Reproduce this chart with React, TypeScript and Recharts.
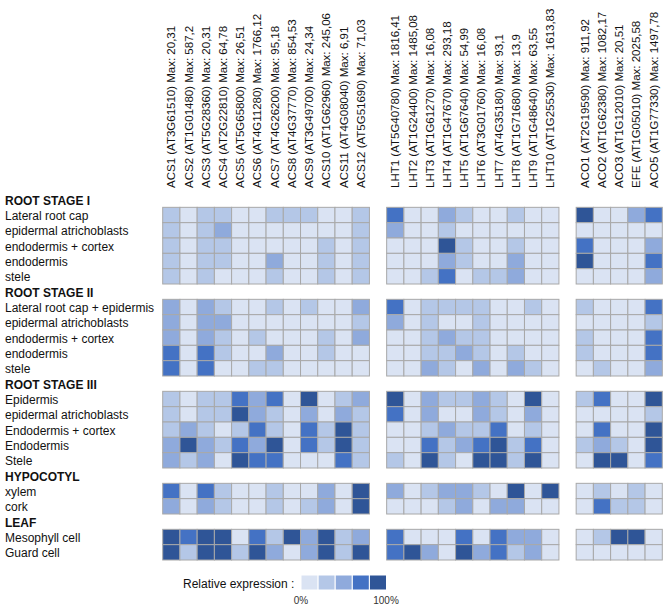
import { ScatterChart, Scatter, XAxis, YAxis } from "recharts";

// gene columns, one array per family
const acsGenes = [
  "ACS1 (AT3G61510) Max: 20,31",
  "ACS2 (AT1G01480) Max: 587,2",
  "ACS3 (AT5G28360) Max: 20,31",
  "ACS4 (AT2G22810) Max: 64,78",
  "ACS5 (AT5G65800) Max: 26,51",
  "ACS6 (AT4G11280) Max: 1766,12",
  "ACS7 (AT4G26200) Max: 95,18",
  "ACS8 (AT4G37770) Max: 854,53",
  "ACS9 (AT3G49700) Max: 24,34",
  "ACS10 (AT1G62960) Max: 245,06",
  "ACS11 (AT4G08040) Max: 6,91",
  "ACS12 (AT5G51690) Max: 71,03",
];
const lhtGenes = [
  "LHT1 (AT5G40780) Max: 1816,41",
  "LHT2 (AT1G24400) Max: 1485,08",
  "LHT3 (AT1G61270) Max: 16,08",
  "LHT4 (AT1G47670) Max: 293,18",
  "LHT5 (AT1G67640) Max: 54,99",
  "LHT6 (AT3G01760) Max: 16,08",
  "LHT7 (AT4G35180) Max: 93,1",
  "LHT8 (AT1G71680) Max: 13,9",
  "LHT9 (AT1G48640) Max: 63,55",
  "LHT10 (AT1G25530) Max: 1613,83",
];
const acoGenes = [
  "ACO1 (AT2G19590) Max: 911,92",
  "ACO2 (AT1G62380) Max: 1082,17",
  "ACO3 (AT1G12010) Max: 20,51",
  "EFE (AT1G05010) Max: 2025,58",
  "ACO5 (AT1G77330) Max: 1497,78",
];

const stageNames = ["ROOT STAGE I", "ROOT STAGE II", "ROOT STAGE III", "HYPOCOTYL", "LEAF"];
const stageTissues = [
  ["Lateral root cap", "epidermal atrichoblasts", "endodermis + cortex", "endodermis", "stele"],
  ["Lateral root cap + epidermis", "epidermal atrichoblasts", "endodermis + cortex", "endodermis", "stele"],
  ["Epidermis", "epidermal atrichoblasts", "Endodermis + cortex", "Endodermis", "Stele"],
  ["xylem", "cork"],
  ["Mesophyll cell", "Guard cell"],
];

// relative expression class, 0 (0%) .. 4 (100%), rows follow stageTissues
const acsLevels = [
  [1, 0, 1, 1, 0, 0, 1, 1, 1, 0, 0, 1],
  [1, 0, 1, 2, 0, 0, 0, 0, 0, 0, 0, 1],
  [1, 0, 1, 1, 0, 0, 0, 0, 0, 1, 0, 1],
  [1, 0, 1, 1, 0, 0, 2, 0, 0, 1, 0, 1],
  [1, 0, 1, 0, 0, 0, 1, 0, 0, 1, 0, 1],
  [2, 0, 2, 1, 0, 0, 1, 0, 1, 0, 0, 2],
  [2, 0, 2, 2, 0, 0, 0, 0, 0, 0, 0, 1],
  [2, 0, 2, 1, 0, 1, 0, 0, 0, 1, 0, 2],
  [3, 0, 3, 1, 0, 0, 2, 0, 0, 1, 0, 0],
  [3, 0, 3, 0, 0, 1, 1, 0, 0, 0, 0, 0],
  [1, 0, 1, 1, 3, 2, 3, 0, 4, 0, 1, 2],
  [1, 0, 1, 1, 4, 2, 1, 0, 2, 0, 2, 1],
  [1, 2, 1, 0, 1, 3, 1, 0, 3, 1, 4, 1],
  [2, 4, 2, 1, 3, 2, 4, 0, 3, 1, 4, 1],
  [2, 1, 2, 0, 4, 3, 3, 0, 0, 0, 3, 1],
  [3, 0, 3, 1, 0, 0, 1, 0, 0, 2, 0, 4],
  [2, 0, 2, 1, 0, 0, 1, 0, 1, 2, 0, 4],
  [4, 3, 4, 4, 0, 3, 1, 4, 2, 4, 1, 2],
  [4, 1, 4, 4, 1, 4, 2, 0, 2, 4, 1, 4],
];
const lhtLevels = [
  [3, 0, 0, 2, 1, 0, 0, 1, 0, 0],
  [2, 0, 0, 1, 0, 0, 0, 0, 0, 0],
  [0, 0, 0, 4, 1, 0, 0, 1, 0, 0],
  [0, 0, 0, 2, 1, 0, 0, 2, 0, 0],
  [0, 0, 1, 3, 0, 1, 1, 2, 0, 0],
  [3, 0, 1, 1, 1, 1, 0, 0, 1, 0],
  [2, 0, 1, 0, 0, 1, 0, 0, 0, 0],
  [0, 0, 1, 2, 1, 1, 0, 0, 0, 0],
  [0, 0, 1, 1, 2, 1, 0, 1, 0, 0],
  [0, 0, 2, 1, 0, 2, 0, 2, 1, 0],
  [4, 0, 2, 1, 1, 2, 1, 0, 4, 0],
  [3, 0, 2, 0, 0, 2, 1, 0, 2, 0],
  [0, 0, 1, 2, 1, 1, 3, 0, 1, 0],
  [0, 0, 3, 1, 2, 3, 4, 1, 3, 0],
  [1, 0, 4, 1, 0, 4, 4, 1, 4, 0],
  [2, 0, 1, 2, 2, 1, 0, 4, 0, 4],
  [0, 0, 0, 1, 2, 0, 2, 2, 0, 0],
  [3, 0, 0, 0, 3, 0, 3, 2, 2, 0],
  [3, 4, 2, 0, 4, 2, 3, 1, 2, 0],
];
const acoLevels = [
  [4, 0, 0, 2, 3],
  [0, 0, 0, 0, 0],
  [3, 0, 0, 0, 2],
  [4, 0, 0, 0, 3],
  [0, 0, 0, 0, 2],
  [1, 0, 0, 0, 3],
  [0, 0, 0, 0, 1],
  [1, 0, 0, 0, 3],
  [1, 0, 0, 0, 3],
  [0, 1, 0, 0, 2],
  [1, 3, 0, 0, 4],
  [0, 0, 0, 0, 1],
  [0, 3, 0, 0, 4],
  [1, 2, 1, 0, 4],
  [0, 4, 4, 0, 3],
  [0, 1, 0, 1, 0],
  [0, 3, 1, 1, 0],
  [0, 1, 4, 4, 0],
  [0, 0, 0, 0, 0],
];

const palette = ["#dae3f3", "#b4c7e7", "#8faadc", "#4472c4", "#2f5597"];

const W = 666;
const H = 609;
const LEFT = 162.7;
const RIGHT = 3.7;
const TOP = 192;
const BOTTOM = 49;
const COL_SLOTS = acsGenes.length + 1 + lhtGenes.length + 1 + acoGenes.length;
const ROW_SLOTS = stageTissues.reduce((s, t) => s + t.length + 1, 0);
const CW = (W - LEFT - RIGHT) / COL_SLOTS;
const CH = (H - TOP - BOTTOM) / ROW_SLOTS;
const FONT = "Arial, 'Liberation Sans', sans-serif";

// column slot for each gene family (one empty slot between families)
const groups = [
  { genes: acsGenes, levels: acsLevels, start: 0 },
  { genes: lhtGenes, levels: lhtLevels, start: acsGenes.length + 1 },
  { genes: acoGenes, levels: acoLevels, start: acsGenes.length + lhtGenes.length + 2 },
];

const colLabels = new Map<number, string>();
groups.forEach((g) => g.genes.forEach((name, i) => colLabels.set(g.start + i + 0.5, name)));

const rowLabels = new Map<number, { text: string; bold: boolean }>();
const tissueSlots: number[] = [];
let slot = 0;
stageNames.forEach((stage, s) => {
  rowLabels.set(slot + 0.5, { text: stage, bold: true });
  slot++;
  stageTissues[s].forEach((t) => {
    rowLabels.set(slot + 0.5, { text: t, bold: false });
    tissueSlots.push(slot);
    slot++;
  });
});

const cells: { x: number; y: number; level: number }[] = [];
groups.forEach((g) =>
  g.levels.forEach((row, r) =>
    row.forEach((level, c) => {
      cells.push({ x: g.start + c + 0.5, y: tissueSlots[r] + 0.5, level });
    })
  )
);

const ColTick = (props: any) => {
  const { x, payload } = props;
  return (
    <text
      transform={`translate(${x},${TOP - 4}) rotate(-90)`}
      textAnchor="start"
      dominantBaseline="central"
      fontSize={11.5}
      fontFamily={FONT}
      fill="#111"
    >
      {colLabels.get(payload.value)}
    </text>
  );
};

const RowTick = (props: any) => {
  const { y, payload } = props;
  const lab = rowLabels.get(payload.value);
  if (!lab) return null;
  return (
    <text
      x={5}
      y={y + 1}
      textAnchor="start"
      dominantBaseline="central"
      fontSize={12}
      fontWeight={lab.bold ? "bold" : "normal"}
      fontFamily={FONT}
      fill="#111"
    >
      {lab.text}
    </text>
  );
};

const Cell = (props: any) => {
  const { cx, cy, payload } = props;
  return (
    <rect
      x={cx - CW / 2}
      y={cy - CH / 2}
      width={CW}
      height={CH}
      fill={palette[payload.level]}
      stroke="#a8a8a8"
      strokeWidth={1}
    />
  );
};

export default function App() {
  return (
    <div style={{ position: "relative", width: W, height: H, background: "#fff" }}>
      <style>{`body{margin:0}`}</style>
      <ScatterChart width={W} height={H} margin={{ top: 0, right: RIGHT, bottom: BOTTOM, left: 0 }}>
        <XAxis
          type="number"
          dataKey="x"
          orientation="top"
          domain={[0, COL_SLOTS]}
          ticks={Array.from(colLabels.keys())}
          interval={0}
          height={TOP}
          axisLine={false}
          tickLine={false}
          tick={<ColTick />}
        />
        <YAxis
          type="number"
          dataKey="y"
          domain={[0, ROW_SLOTS]}
          reversed
          ticks={Array.from(rowLabels.keys())}
          interval={0}
          width={LEFT}
          axisLine={false}
          tickLine={false}
          tick={<RowTick />}
        />
        <Scatter data={cells} shape={<Cell />} isAnimationActive={false} />
      </ScatterChart>
      <svg
        style={{ position: "absolute", left: 180, top: 570 }}
        width={230}
        height={39}
        fontFamily={FONT}
      >
        <text x={3} y={14} fontSize={12} dominantBaseline="central" fill="#111">
          Relative expression :
        </text>
        {palette.map((c, i) => (
          <rect key={c} x={121 + i * 17.1} y={5} width={17.1} height={15} fill={c} stroke="#fff" strokeWidth={1} />
        ))}
        <text x={121} y={30} fontSize={10} textAnchor="middle" dominantBaseline="central" fill="#333">
          0%
        </text>
        <text x={206} y={30} fontSize={10} textAnchor="middle" dominantBaseline="central" fill="#333">
          100%
        </text>
      </svg>
    </div>
  );
}
